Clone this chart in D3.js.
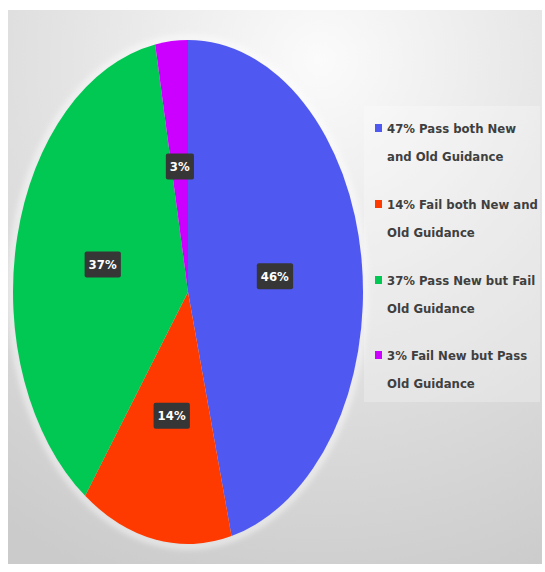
<!DOCTYPE html>
<html>
<head>
<meta charset="utf-8">
<script src="https://cdn.jsdelivr.net/npm/d3@7/dist/d3.min.js"></script>
<style>
  html, body { margin: 0; padding: 0; background: #ffffff; }
  svg { display: block; }
</style>
</head>
<body>
<svg id="chart" width="545" height="572"></svg>
<script>
// Slice categories, values (drawn %), legend texts and colours
const categories = ["Pass both", "Fail both", "Pass New Fail Old", "Fail New Pass Old"];
const values = [46, 14, 37, 3];
const sliceLabels = ["46%", "14%", "37%", "3%"];
const legendLines = [
  ["47% Pass both New", "and Old Guidance"],
  ["14% Fail both New and", "Old Guidance"],
  ["37% Pass New but Fail", "Old Guidance"],
  ["3% Fail New but Pass", "Old Guidance"]
];
const colors = ["#5058f2", "#ff3a00", "#00c853", "#cc00ff"];

const FONT = "'DejaVu Sans Condensed', 'Liberation Sans', sans-serif";

const svg = d3.select("#chart");
const defs = svg.append("defs");

// soft grey backdrop panel
const grad = defs.append("radialGradient")
  .attr("id", "panelGrad")
  .attr("gradientUnits", "userSpaceOnUse")
  .attr("cx", 320).attr("cy", 60).attr("r", 560);
grad.append("stop").attr("offset", "0%").attr("stop-color", "#fbfbfb");
grad.append("stop").attr("offset", "45%").attr("stop-color", "#e4e4e4");
grad.append("stop").attr("offset", "100%").attr("stop-color", "#cbcbcb");

svg.append("rect")
  .attr("x", 8).attr("y", 10).attr("width", 534).attr("height", 554)
  .attr("fill", "url(#panelGrad)");

// legend backing
svg.append("rect")
  .attr("x", 364).attr("y", 106).attr("width", 176).attr("height", 296)
  .attr("fill", "#ffffff").attr("opacity", 0.25);

// elliptical pie: drawn as a circle then stretched
const cx = 188, cy = 292, rx = 175, ry = 252;
const R = 100;

// faint light halo round the pie
const glow = defs.append("filter").attr("id", "glow")
  .attr("x", "-10%").attr("y", "-10%").attr("width", "120%").attr("height", "120%");
glow.append("feGaussianBlur").attr("stdDeviation", 3);
svg.append("ellipse")
  .attr("cx", cx).attr("cy", cy).attr("rx", rx + 2).attr("ry", ry + 2)
  .attr("fill", "none").attr("stroke", "#ffffff").attr("stroke-width", 5)
  .attr("opacity", 0.7).attr("filter", "url(#glow)");

const pie = d3.pie().sort(null).value(d => d)(values);
const arc = d3.arc().innerRadius(0).outerRadius(R);

const pieG = svg.append("g")
  .attr("transform", `translate(${cx},${cy}) scale(${rx / R},${ry / R})`);

pieG.selectAll("path")
  .data(pie)
  .join("path")
  .attr("d", arc)
  .attr("fill", (d, i) => colors[i]);

// value labels in dark boxes
const labelG = svg.append("g");
pie.forEach((d, i) => {
  const [px, py] = arc.centroid(d);
  const x = cx + px * rx / R;
  const y = cy + py * ry / R;
  const g = labelG.append("g").attr("transform", `translate(${x},${y})`);
  const t = g.append("text")
    .attr("text-anchor", "middle")
    .attr("dy", "0.36em")
    .attr("fill", "#ffffff")
    .attr("font-family", FONT)
    .attr("font-weight", "bold")
    .attr("font-size", 13)
    .text(sliceLabels[i]);
  const bb = t.node().getBBox();
  g.insert("rect", "text")
    .attr("x", bb.x - 4).attr("y", -13)
    .attr("width", bb.width + 8).attr("height", 26)
    .attr("rx", 2)
    .attr("fill", "#363636");
});

// legend
const legY = [128, 204, 280, 355];
const legG = svg.append("g");
legendLines.forEach((lines, i) => {
  legG.append("rect")
    .attr("x", 375).attr("y", legY[i] - 4)
    .attr("width", 7).attr("height", 8)
    .attr("fill", colors[i]);
  lines.forEach((ln, j) => {
    legG.append("text")
      .attr("x", 387).attr("y", legY[i] + j * 28)
      .attr("dy", "0.36em")
      .attr("fill", "#3f3f3f")
      .attr("font-family", FONT)
      .attr("font-weight", "bold")
      .attr("font-size", 13)
      .text(ln);
  });
});
</script>
</body>
</html>
